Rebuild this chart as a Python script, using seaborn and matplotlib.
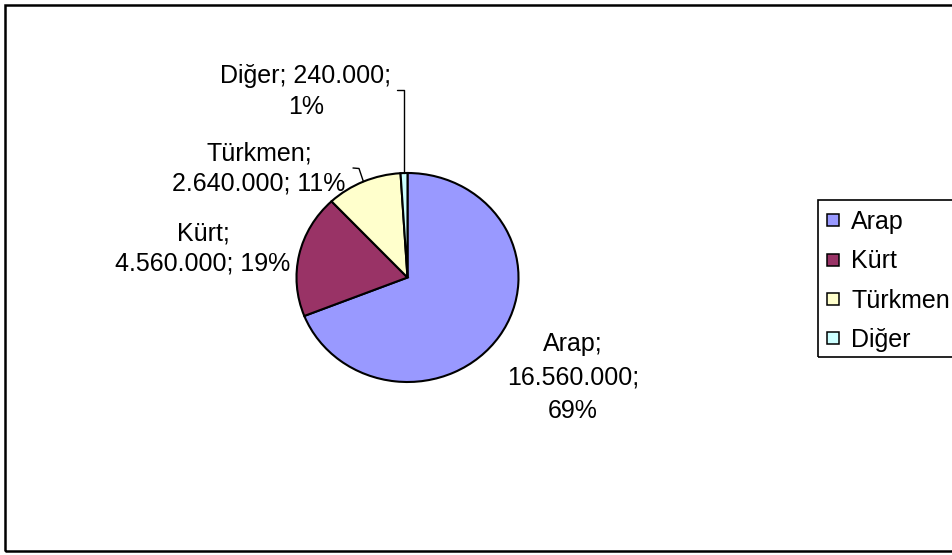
import matplotlib
matplotlib.use("Agg")
import matplotlib.pyplot as plt
import seaborn as sns
import numpy as np
from matplotlib.patches import Rectangle
from matplotlib.lines import Line2D

# ---- data ----
categories = ["Arap", "Kürt", "Türkmen", "Diğer"]
populations = [16560000, 4560000, 2640000, 240000]
colors = ["#9999FF", "#993366", "#FFFFCC", "#CCFFFF"]

W, H = 952, 555
sns.set_theme(style="white")
plt.rcParams['font.family'] = ['Liberation Sans', 'DejaVu Sans']

FS = 18

fig = plt.figure(figsize=(W / 100, H / 100), dpi=100)
fig.patch.set_facecolor('white')


def fx(x):
    return x / W


def fy(y):
    return 1 - y / H


def fmt(n):
    return f"{n:,}".replace(",", ".")


total = sum(populations)
pcts = [round(100 * v / total) for v in populations]

# outer border
fig.patches.append(Rectangle((fx(4.7), fy(551.3)), 1.2, fy(5.3) - fy(551.3),
                             transform=fig.transFigure, fill=False,
                             edgecolor='black', lw=1.8))

# pie axes (slightly stretched horizontally like the original)
cx, cy, rx, ry = 407.5, 277.5, 111, 104.5
ax = fig.add_axes([fx(cx - rx), fy(cy + ry), 2 * rx / W, 2 * ry / H])
wedges, _ = ax.pie(populations, colors=colors, startangle=90, counterclock=False,
                   wedgeprops=dict(edgecolor='black', linewidth=1.5))
for w in wedges:
    w.set_clip_on(False)
ax.set_xlim(-1, 1)
ax.set_ylim(-1, 1)
ax.set_aspect('auto')
ax.axis('off')

# labels
texts = []
texts.append([f"{categories[0]};", f"{fmt(populations[0])};", f"{pcts[0]}%"])
texts.append([f"{categories[1]};", f"{fmt(populations[1])}; {pcts[1]}%"])
texts.append([f"{categories[2]};", f"{fmt(populations[2])}; {pcts[2]}%"])
texts.append([f"{categories[3]}; {fmt(populations[3])};", f"{pcts[3]}%"])
label_pos = [(573, 376, 33), (203, 247, 31), (259, 167, 30), (306, 90, 30)]

for lines, (lx, ly, sp) in zip(texts, label_pos):
    n = len(lines)
    for i, line in enumerate(lines):
        yy = ly + (i - (n - 1) / 2) * sp + 8.5
        fig.text(fx(lx), fy(yy), line, ha='center', va='baseline',
                 fontsize=FS, color='black')


def edge_px(w):
    t = np.deg2rad((w.theta1 + w.theta2) / 2)
    return cx + rx * np.cos(t), cy - ry * np.sin(t)


# leader lines (Türkmen, Diğer)
ex, ey = edge_px(wedges[3])
fig.add_artist(Line2D([fx(ex - 7), fx(ex), fx(ex)], [fy(90), fy(90), fy(ey)],
                      transform=fig.transFigure, color='black', lw=1))
ex, ey = edge_px(wedges[2])
fig.add_artist(Line2D([fx(353), fx(359), fx(ex)], [fy(168), fy(168.5), fy(ey)],
                      transform=fig.transFigure, color='black', lw=1))

# legend
fig.patches.append(Rectangle((fx(818), fy(357)), 1.0, fy(200) - fy(357),
                             transform=fig.transFigure, fill=False,
                             edgecolor='black', lw=1.2))
leg_y = [220, 259.5, 299, 338]
for cat, col, yy in zip(categories, colors, leg_y):
    fig.patches.append(Rectangle((fx(827), fy(yy + 6)), 12 / W, 12 / H,
                                 transform=fig.transFigure, facecolor=col,
                                 edgecolor='black', lw=1.1))
    fig.text(fx(851), fy(yy + 8.5), cat, ha='left', va='baseline',
             fontsize=FS, color='black')

fig.savefig("out.png", dpi=100, facecolor='white')
